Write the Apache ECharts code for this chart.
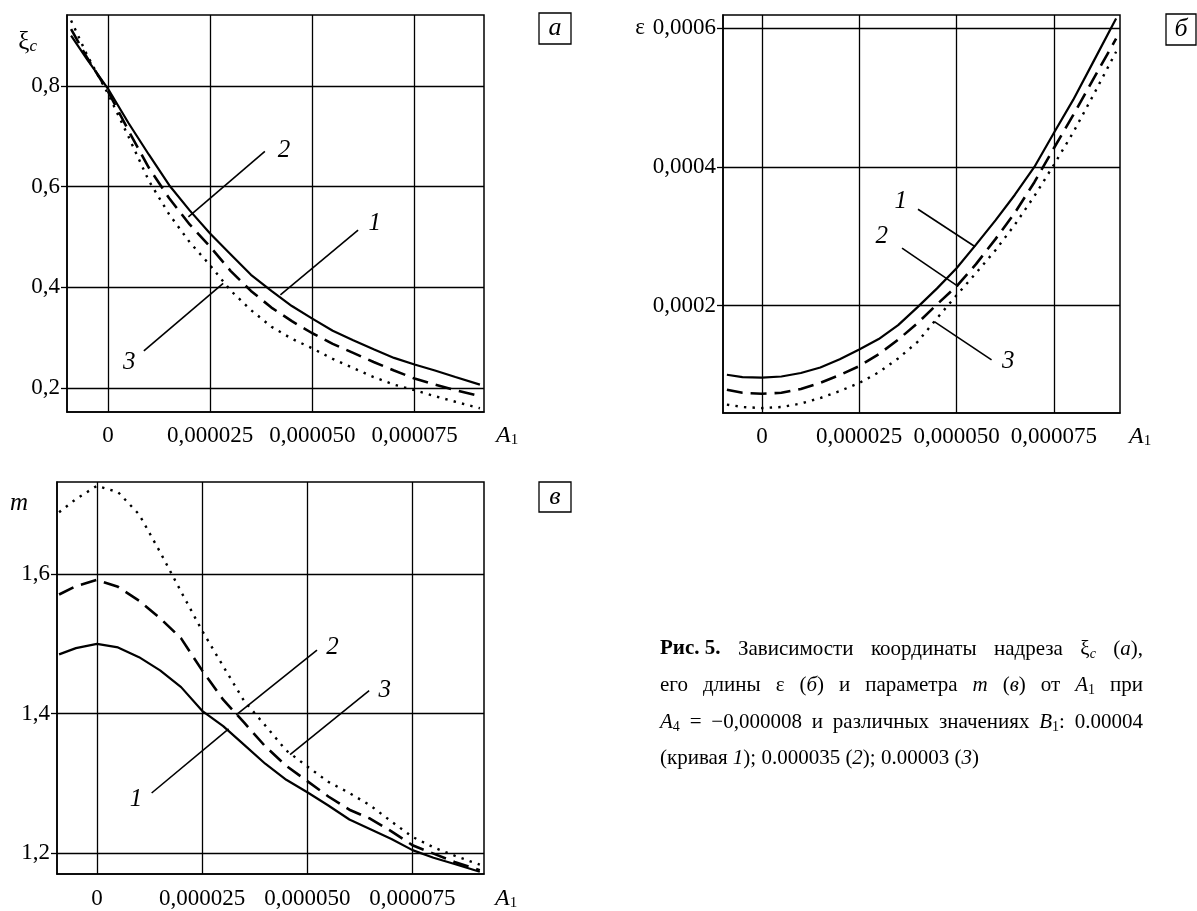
<!DOCTYPE html>
<html>
<head>
<meta charset="utf-8">
<script src="https://cdn.jsdelivr.net/npm/echarts@6.0.0/dist/echarts.min.js"></script>
<style>
html,body{margin:0;padding:0;background:#fff;}
#c{width:1197px;height:911px;}
</style>
</head>
<body>
<div id="c"></div>
<script>
// ---------- data ----------
const xA1 = [-0.000009, -0.000005, 0, 0.000005, 0.00001, 0.000015, 0.00002, 0.000025, 0.00003, 0.000035,
  0.00004, 0.000045, 0.00005, 0.000055, 0.00006, 0.000065, 0.00007, 0.000075, 0.00008, 0.000085, 0.000091];

// panel а : xi_c
const xi1 = [0.900, 0.852, 0.795, 0.727, 0.664, 0.603, 0.553, 0.507, 0.466, 0.425, 0.393, 0.363, 0.338, 0.314, 0.295, 0.277, 0.260, 0.247, 0.235, 0.222, 0.207];
const xi2 = [0.913, 0.855, 0.790, 0.712, 0.638, 0.577, 0.525, 0.481, 0.433, 0.393, 0.360, 0.333, 0.309, 0.288, 0.270, 0.252, 0.235, 0.219, 0.207, 0.196, 0.184];
const xi3 = [0.930, 0.860, 0.785, 0.700, 0.612, 0.545, 0.490, 0.444, 0.394, 0.355, 0.322, 0.298, 0.279, 0.258, 0.240, 0.222, 0.207, 0.196, 0.184, 0.173, 0.160];

// panel б : epsilon
const eps1 = [0.0001005, 0.000097, 0.0000965, 0.000098, 0.000103, 0.000111, 0.000123, 0.000137, 0.000152, 0.000172, 0.000198, 0.000225, 0.000254, 0.000288, 0.000323, 0.00036, 0.0004, 0.000449, 0.000497, 0.00055, 0.000614];
const eps2 = [0.000079, 0.0000745, 0.0000732, 0.0000745, 0.00008, 0.000089, 0.0001, 0.000113, 0.00013, 0.000151, 0.000175, 0.000202, 0.000228, 0.00026, 0.000296, 0.000334, 0.000378, 0.000427, 0.000475, 0.000525, 0.000585];
const eps3 = [0.0000575, 0.000054, 0.0000525, 0.000054, 0.000059, 0.000067, 0.000077, 0.0000886, 0.000104, 0.000124, 0.000148, 0.000182, 0.000215, 0.000247, 0.00028, 0.000317, 0.000358, 0.000403, 0.00045, 0.000502, 0.000566];

// panel в : m
const m1 = [1.485, 1.494, 1.500, 1.495, 1.481, 1.462, 1.438, 1.404, 1.382, 1.355, 1.328, 1.305, 1.287, 1.268, 1.248, 1.234, 1.220, 1.204, 1.193, 1.184, 1.173];
const m2 = [1.571, 1.583, 1.592, 1.582, 1.562, 1.537, 1.508, 1.462, 1.420, 1.387, 1.353, 1.325, 1.303, 1.281, 1.262, 1.249, 1.231, 1.211, 1.199, 1.187, 1.175];
const m3 = [1.689, 1.708, 1.727, 1.718, 1.686, 1.632, 1.575, 1.519, 1.468, 1.418, 1.383, 1.347, 1.324, 1.302, 1.286, 1.268, 1.245, 1.223, 1.208, 1.196, 1.183];

// tick values
const xTicks = [0, 0.000025, 0.00005, 0.000075];
const xiTicks = [0.2, 0.4, 0.6, 0.8];
const epsTicks = [0.0002, 0.0004, 0.0006];
const mTicks = [1.2, 1.4, 1.6];

// curve annotations (data coordinates): label text, label position, leader line
const notesA = [
  {n: '1', at: [0.0000653, 0.527], from: [0.0000612, 0.514], to: [0.0000422, 0.385]},
  {n: '2', at: [0.0000431, 0.673], from: [0.0000384, 0.670], to: [0.0000197, 0.540]},
  {n: '3', at: [0.0000052, 0.252], from: [0.0000088, 0.274], to: [0.0000282, 0.408]}
];
const notesB = [
  {n: '1', at: [0.0000357, 0.00035], from: [0.0000401, 0.000339], to: [0.0000548, 0.000285]},
  {n: '2', at: [0.0000308, 0.0003], from: [0.000036, 0.000283], to: [0.0000504, 0.000228]},
  {n: '3', at: [0.0000633, 0.00012], from: [0.000059, 0.000122], to: [0.0000443, 0.000177]}
];
const notesC = [
  {n: '1', at: [0.0000093, 1.277], from: [0.000013, 1.286], to: [0.0000313, 1.378]},
  {n: '2', at: [0.000056, 1.495], from: [0.0000523, 1.491], to: [0.0000331, 1.398]},
  {n: '3', at: [0.0000684, 1.433], from: [0.0000647, 1.433], to: [0.0000459, 1.341]}
];

const panelLetters = ['а', 'б', 'в'];

// caption text: words made of [style, text] segments
const capLines = [
  {just: true, words: [[['b', 'Рис. 5.']], [['n', 'Зависимости']], [['n', 'координаты']], [['n', 'надреза']], [['n', 'ξ'], ['si', 'c']], [['n', '('], ['i', 'а'], ['n', '),']]]},
  {just: true, words: [[['n', 'его']], [['n', 'длины']], [['n', 'ε']], [['n', '('], ['i', 'б'], ['n', ')']], [['n', 'и']], [['n', 'параметра']], [['i', 'm']], [['n', '('], ['i', 'в'], ['n', ')']], [['n', 'от']], [['i', 'A'], ['s', '1']], [['n', 'при']]]},
  {just: true, words: [[['i', 'A'], ['s', '4']], [['n', '=']], [['n', '−0,000008']], [['n', 'и']], [['n', 'различных']], [['n', 'значениях']], [['i', 'B'], ['s', '1'], ['n', ':']], [['n', '0.00004']]]},
  {just: false, words: [[['n', '(кривая']], [['i', '1'], ['n', ');']], [['n', '0.000035']], [['n', '('], ['i', '2'], ['n', ');']], [['n', '0.00003']], [['n', '('], ['i', '3'], ['n', ')']]]}
];

// ---------- styles / layout ----------
const F = "'Liberation Serif','Times New Roman',serif";
const BLACK = '#000';

const grids = [
  {left: 67, top: 15, width: 417, height: 397},
  {left: 723, top: 15, width: 397, height: 398},
  {left: 57, top: 482, width: 427, height: 397}
];
const xRanges = [[-0.00001, 0.000092], [-0.00001, 0.000092], [-0.0000095, 0.000092]];
const yRanges = [[0.1526, 0.941], [0.0000454, 0.000619], [1.1697, 1.7325]];

function commaFmt(dec) {
  return function (v) { return v === 0 ? '0' : v.toFixed(dec).replace('.', ','); };
}

const a1Rich = {
  i: {fontFamily: F, fontStyle: 'italic', fontSize: 24, color: BLACK},
  s: {fontFamily: F, fontSize: 15, color: BLACK, padding: [9, 0, 0, 0]}
};

function xAxisFor(gi, gap, lblMargin, namePad) {
  return {
    type: 'value', gridIndex: gi, min: xRanges[gi][0], max: xRanges[gi][1],
    axisLine: {show: true, onZero: false, lineStyle: {color: BLACK, width: 1.5}},
    axisTick: {show: false, customValues: xTicks},
    axisLabel: {customValues: xTicks, formatter: commaFmt(6), fontFamily: F, fontSize: 23, color: BLACK, margin: lblMargin},
    splitLine: {show: true, lineStyle: {color: BLACK, width: 1.3}},
    name: '{i|A}{s|1}', nameLocation: 'end', nameGap: gap, nameMoveOverlap: false,
    nameTextStyle: {align: 'left', verticalAlign: 'middle', padding: [namePad, 0, 0, 0], rich: a1Rich}
  };
}

function yAxisFor(gi, ticks, dec, nameCfg) {
  return Object.assign({
    type: 'value', gridIndex: gi, min: yRanges[gi][0], max: yRanges[gi][1],
    axisLine: {show: true, onZero: false, lineStyle: {color: BLACK, width: 1.5}},
    axisTick: {show: true, inside: false, length: 6, customValues: ticks, lineStyle: {color: BLACK, width: 1.3}},
    axisLabel: {customValues: ticks, formatter: commaFmt(dec), fontFamily: F, fontSize: 23, color: BLACK, margin: 7},
    splitLine: {show: true, lineStyle: {color: BLACK, width: 1.3}},
    nameLocation: 'end', nameMoveOverlap: false
  }, nameCfg);
}

const lineTypes = [
  {color: BLACK, width: 2.2, type: 'solid'},
  {color: BLACK, width: 2.6, type: [16, 8]},
  {color: BLACK, width: 2.4, type: [2.4, 6.2]}
];

function curve(gi, k, ys, notes) {
  const note = notes.find(function (d) { return d.n === String(k + 1); });
  const s = {
    type: 'line', xAxisIndex: gi, yAxisIndex: gi,
    data: xA1.map(function (x, i) { return [x, ys[i]]; }),
    showSymbol: false, symbol: 'none', smooth: false, silent: true,
    lineStyle: lineTypes[k], z: 3
  };
  if (note) {
    s.markLine = {
      silent: true, symbol: ['none', 'none'], animation: false,
      lineStyle: {color: BLACK, width: 1.6, type: 'solid'},
      label: {show: false}, emphasis: {disabled: true},
      data: [[{coord: note.from}, {coord: note.to}]]
    };
    s.markPoint = {
      silent: true, symbol: 'rect', symbolSize: 1, animation: false,
      itemStyle: {color: 'rgba(0,0,0,0)'},
      label: {show: true, position: 'inside', formatter: '{b}', fontFamily: F, fontStyle: 'italic', fontSize: 25, color: BLACK},
      data: [{name: note.n, coord: note.at}]
    };
  }
  return s;
}

const series = [];
[xi1, xi2, xi3].forEach(function (ys, k) { series.push(curve(0, k, ys, notesA)); });
[eps1, eps2, eps3].forEach(function (ys, k) { series.push(curve(1, k, ys, notesB)); });
[m1, m2, m3].forEach(function (ys, k) { series.push(curve(2, k, ys, notesC)); });

// ---------- graphic: panel letters ----------
const letterBoxes = [
  {x: 539, y: 13, w: 32, h: 31},
  {x: 1166, y: 14, w: 30, h: 31},
  {x: 539, y: 482, w: 32, h: 30}
];
const graphics = [];
letterBoxes.forEach(function (b, i) {
  graphics.push({
    type: 'group', x: b.x, y: b.y, children: [
      {type: 'rect', shape: {x: 0, y: 0, width: b.w, height: b.h}, style: {fill: '#fff', stroke: BLACK, lineWidth: 1.3}},
      {type: 'text', x: b.w / 2, y: b.h / 2, style: {text: panelLetters[i], font: 'italic 26px ' + F, fill: BLACK, align: 'center', verticalAlign: 'middle'}}
    ]
  });
});

// ---------- graphic: caption (justified lines) ----------
const CAP = 21;
const capRich = {
  n: {fontFamily: F, fontSize: CAP, lineHeight: 26, fill: BLACK},
  i: {fontFamily: F, fontSize: CAP, fontStyle: 'italic', lineHeight: 26, fill: BLACK},
  b: {fontFamily: F, fontSize: CAP, fontWeight: 'bold', lineHeight: 26, fill: BLACK},
  s: {fontFamily: F, fontSize: 14, lineHeight: 16, padding: [10, 0, 0, 0], fill: BLACK},
  si: {fontFamily: F, fontSize: 14, fontStyle: 'italic', lineHeight: 16, padding: [10, 0, 0, 0], fill: BLACK}
};
const mctx = document.createElement('canvas').getContext('2d');
function segWidth(st, t) {
  const s = capRich[st];
  mctx.font = (s.fontStyle || 'normal') + ' ' + (s.fontWeight || 'normal') + ' ' + s.fontSize + 'px ' + F;
  return mctx.measureText(t).width;
}
const capX0 = 660, capX1 = 1143, capY0 = 649, capDy = 36.5;
capLines.forEach(function (line, li) {
  const widths = line.words.map(function (w) {
    return w.reduce(function (acc, seg) { return acc + segWidth(seg[0], seg[1]); }, 0);
  });
  const total = widths.reduce(function (a, b) { return a + b; }, 0);
  const gap = line.just ? (capX1 - capX0 - total) / (line.words.length - 1) : segWidth('n', ' ');
  let x = capX0;
  line.words.forEach(function (w, wi) {
    graphics.push({
      type: 'text', x: x, y: capY0 + li * capDy, silent: true,
      style: {
        text: w.map(function (seg) { return '{' + seg[0] + '|' + seg[1] + '}'; }).join(''),
        rich: capRich, align: 'left', verticalAlign: 'middle', fill: BLACK
      }
    });
    x += widths[wi] + gap;
  });
});

// ---------- chart ----------
const chart = echarts.init(document.getElementById('c'), null, {renderer: 'canvas'});
chart.setOption({
  animation: false,
  backgroundColor: '#fff',
  textStyle: {fontFamily: F},
  grid: grids.map(function (g) {
    return Object.assign({show: true, borderColor: BLACK, borderWidth: 1.5, backgroundColor: 'transparent', containLabel: false}, g);
  }),
  xAxis: [xAxisFor(0, 12, 12, 48), xAxisFor(1, 9, 12, 48), xAxisFor(2, 11, 13, 50)],
  yAxis: [
    yAxisFor(0, xiTicks, 1, {
      name: '{g|ξ}{c|c}', nameGap: -27,
      nameTextStyle: {align: 'right', verticalAlign: 'middle', padding: [0, 30, 0, 0], rich: {
        g: {fontFamily: F, fontSize: 25, color: BLACK},
        c: {fontFamily: F, fontStyle: 'italic', fontSize: 17, color: BLACK, padding: [10, 0, 0, 0]}
      }}
    }),
    yAxisFor(1, epsTicks, 4, {
      name: 'ε', nameGap: -13,
      nameTextStyle: {align: 'right', verticalAlign: 'middle', padding: [0, 78, 0, 0], fontFamily: F, fontSize: 23, color: BLACK}
    }),
    yAxisFor(2, mTicks, 1, {
      name: 'm', nameGap: -21,
      nameTextStyle: {align: 'right', verticalAlign: 'middle', padding: [0, 29, 0, 0], fontFamily: F, fontStyle: 'italic', fontSize: 25, color: BLACK}
    })
  ],
  series: series,
  graphic: {elements: graphics}
});
</script>
</body>
</html>
